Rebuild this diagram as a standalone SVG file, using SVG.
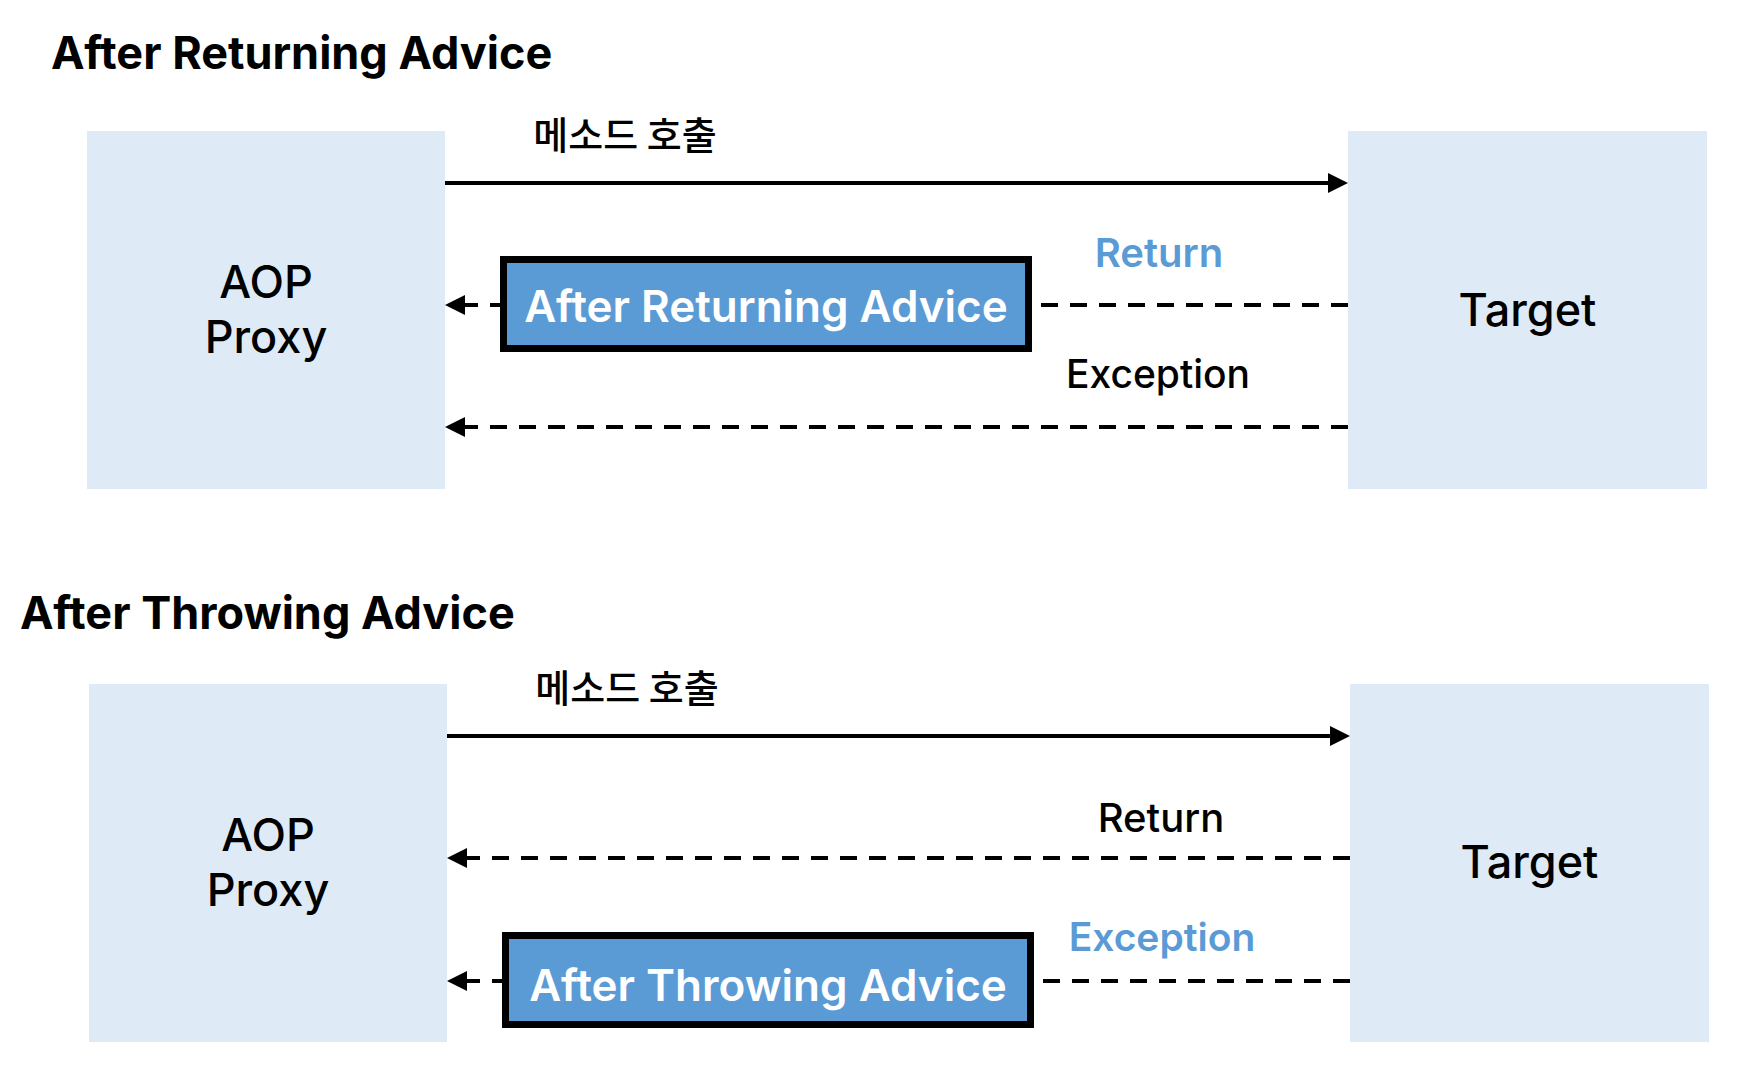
<svg xmlns="http://www.w3.org/2000/svg" width="1740" height="1070" viewBox="0 0 1740 1070">
<style>
  text { font-family: Inter, "Noto Sans", "Noto Sans CJK KR", sans-serif; }
  .title { font-size: 45px; font-weight: 700; fill: #000; }
  .node { fill: #DEEBF7; }
  .nlabel { font-size: 45px; font-weight: 500; fill: #000; text-anchor: middle; }
  .advice { fill: #5B9BD5; stroke: #000; stroke-width: 7; }
  .alabel { font-size: 44px; font-weight: 600; fill: #fff; text-anchor: middle; }
  .elabel { font-size: 40px; font-weight: 500; fill: #000; text-anchor: middle; }
  .exc { font-size: 39px; }
  .blue { fill: #5B9BD5; font-weight: 600; }
  .kr { font-family: "Noto Sans CJK KR", sans-serif; font-size: 38px; font-weight: 500; fill: #000; text-anchor: middle; }
  .solid { stroke: #000; stroke-width: 4; fill: none; }
  .dash { stroke: #000; stroke-width: 4; fill: none; stroke-dasharray: 17 12; }
</style>
<defs>
  <marker id="ah" markerUnits="userSpaceOnUse" markerWidth="20" markerHeight="20" refX="0" refY="10" orient="auto">
    <path d="M0,0 L20,10 L0,20 z" fill="#000"/>
  </marker>
</defs>
<rect width="1740" height="1070" fill="#fff"/>

<text class="title" x="51" y="69">After Returning Advice</text>
<text class="title" x="20" y="629">After Throwing Advice</text>

<g id="proxy1">
  <rect class="node" x="87" y="131" width="358" height="358"/>
  <text class="nlabel" x="266" y="298">AOP</text>
  <text class="nlabel" x="266" y="353">Proxy</text>
</g>
<g id="target1">
  <rect class="node" x="1348" y="131" width="359" height="358"/>
  <text class="nlabel" x="1527.5" y="326">Target</text>
</g>
<g id="advice1">
  <rect class="advice" x="503.5" y="259.5" width="525" height="89"/>
  <text class="alabel" x="766" y="322">After Returning Advice</text>
</g>

<g id="proxy2">
  <rect class="node" x="89" y="684" width="358" height="358"/>
  <text class="nlabel" x="268" y="851">AOP</text>
  <text class="nlabel" x="268" y="906">Proxy</text>
</g>
<g id="target2">
  <rect class="node" x="1350" y="684" width="359" height="358"/>
  <text class="nlabel" x="1529.5" y="878">Target</text>
</g>
<g id="advice2">
  <rect class="advice" x="505.5" y="935.5" width="525" height="89"/>
  <text class="alabel" x="768" y="1001">After Throwing Advice</text>
</g>

<g id="connectors">
  <path class="solid" d="M445,183 H1328" marker-end="url(#ah)"/>
  <text class="kr" x="625" y="149">메소드 호출</text>
  <path class="dash" d="M1348,305 H1032"/>
  <path class="dash" d="M507,305 H465" marker-end="url(#ah)"/>
  <text class="elabel blue" x="1159" y="267">Return</text>
  <path class="dash" d="M1348,427 H465" marker-end="url(#ah)"/>
  <text class="elabel exc" x="1158" y="388">Exception</text>

  <path class="solid" d="M447,736 H1330" marker-end="url(#ah)"/>
  <text class="kr" x="627" y="702">메소드 호출</text>
  <path class="dash" d="M1350,858 H467" marker-end="url(#ah)"/>
  <text class="elabel" x="1161" y="832">Return</text>
  <path class="dash" d="M1350,981 H1034"/>
  <path class="dash" d="M509,981 H467" marker-end="url(#ah)"/>
  <text class="elabel blue exc" x="1162" y="951">Exception</text>
</g>
</svg>
